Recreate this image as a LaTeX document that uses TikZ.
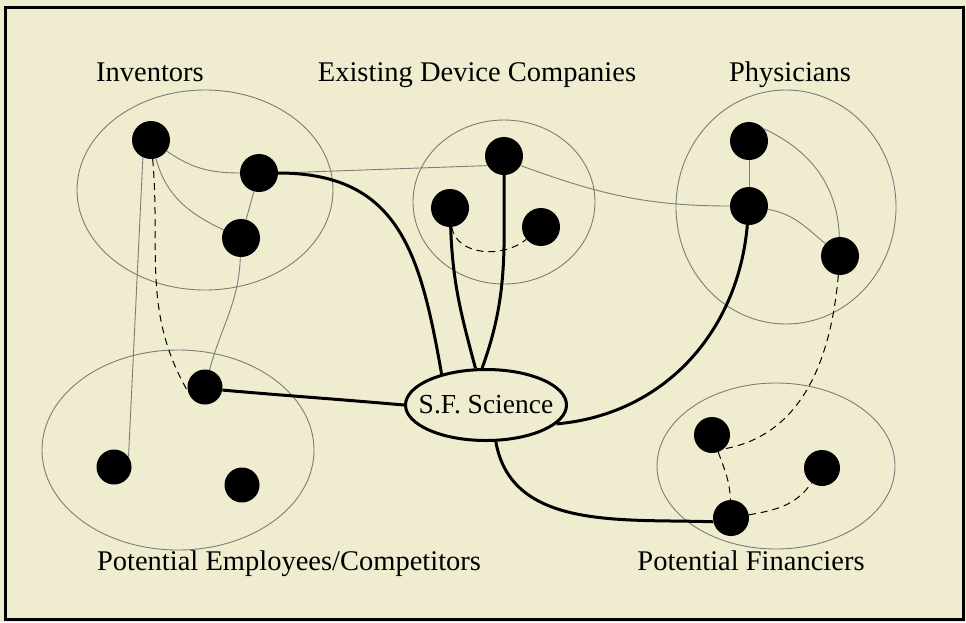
\documentclass[tikz,border=0pt]{standalone}
\usepackage{fontspec}
\setmainfont{Liberation Serif}
\usetikzlibrary{shapes.geometric}
\definecolor{paper}{RGB}{239,236,207}
\definecolor{rim}{RGB}{125,125,120}

\begin{document}
\begin{tikzpicture}[x=10pt,y=-10pt,
  dot/.style={circle,fill=black,minimum size=38pt,inner sep=0pt},
  hub/.style={ellipse,draw,line width=3pt,fill=paper,minimum width=161pt,
    minimum height=71pt,inner sep=-12pt,font=\fontsize{27.5}{31}\selectfont},
  grp/.style={draw=rim,line width=0.9pt},
  link/.style={draw=rim,line width=0.9pt},
  dsh/.style={black,line width=1pt,dash pattern=on 7pt off 5pt},
  tie/.style={black,line width=3pt},
  lbl/.style={anchor=base,font=\fontsize{28.5}{32}\selectfont}]
\useasboundingbox (0,0) rectangle (96.6,62.2);
\fill[paper] (0,0) rectangle (96.6,62.2);
\draw[line width=3pt] (0.5,0.7) rectangle (96.3,61.9);

% groups
\draw[grp] (20.5,19.0) ellipse (12.8 and 10.0);
\draw[grp] (50.4,20.2) ellipse (9.1 and 8.2);
\draw[grp] (78.6,20.7) ellipse (11.0 and 11.7);
\draw[grp] (17.8,45.0) ellipse (13.6 and 10.0);
\draw[grp] (77.6,46.6) ellipse (11.9 and 8.3);

\node[lbl] at (15.0,8.1) {Inventors};
\node[lbl] at (47.7,8.1) {Existing Device Companies};
\node[lbl] at (79.0,8.1) {Physicians};
\node[lbl] at (28.9,57.0) {Potential Employees/Competitors};
\node[lbl] at (75.1,57.0) {Potential Financiers};

% members
\node[dot] (i1) at (15.1,14.0) {};
\node[dot] (i2) at (25.9,17.3) {};
\node[dot] (i3) at (24.1,23.8) {};
\node[dot] (e1) at (50.4,15.6) {};
\node[dot] (e2) at (45.0,20.8) {};
\node[dot] (e3) at (54.1,22.7) {};
\node[dot] (p1) at (74.9,14.1) {};
\node[dot] (p2) at (74.9,20.6) {};
\node[dot] (p3) at (84.0,25.6) {};
\node[dot,minimum size=35pt] (c1) at (20.5,38.7) {};
\node[dot,minimum size=35pt] (c2) at (11.4,46.7) {};
\node[dot,minimum size=35pt] (c3) at (24.2,48.5) {};
\node[dot,minimum size=36pt] (f1) at (71.2,43.5) {};
\node[dot,minimum size=36pt] (f2) at (82.2,46.8) {};
\node[dot,minimum size=36pt] (f3) at (73.1,51.8) {};
\node[hub] (sf) at (48.6,40.5) {S.F. Science};

% weak ties
\draw[link] (i1) to[out=-35,in=180] (i2);
\draw[link] (i1) to[out=-75,in=155] (i3);
\draw[link] (i2) -- (i3);
\draw[link] (i1.245) -- (c2.35);
\draw[link] (i3) to[out=-92,in=75] (c1);
\draw[link] (i2.east) -- (e1.210);
\draw[link] (e1.-30) to[out=-20,in=180] (p2);
\draw[link] (p1) -- (p2);
\draw[link] (p1.40) to[out=-25,in=92] (p3);
\draw[link] (p2) to[out=-10,in=140] (p3);

% dashed ties
\draw[dsh] (i1.-85) to[out=-85,in=120] (c1.195);
\draw[dsh] (e2.-85) to[out=-80,in=-140] (e3);
\draw[dsh] (p3) to[out=-95,in=10] (f1.-50);
\draw[dsh] (f1.-70) to[out=-70,in=92] (f3);
\draw[dsh] (f3) to[out=10,in=-125] (f2);

% strong ties to the firm
\draw[tie] (i2) to[out=0,in=100,looseness=1.2] (sf.145);
\draw[tie] (e2) to[out=-88,in=105] (sf.106);
\draw[tie] (e1) to[out=-90,in=70] (sf.96);
\draw[tie] (c1.-10) to[out=-5,in=175] (sf.west);
\draw[tie] (p2) to[out=-95,in=5] (sf.-15);
\draw[tie] (sf.-75) to[out=-80,in=178] (f3.192);
\end{tikzpicture}
\end{document}
